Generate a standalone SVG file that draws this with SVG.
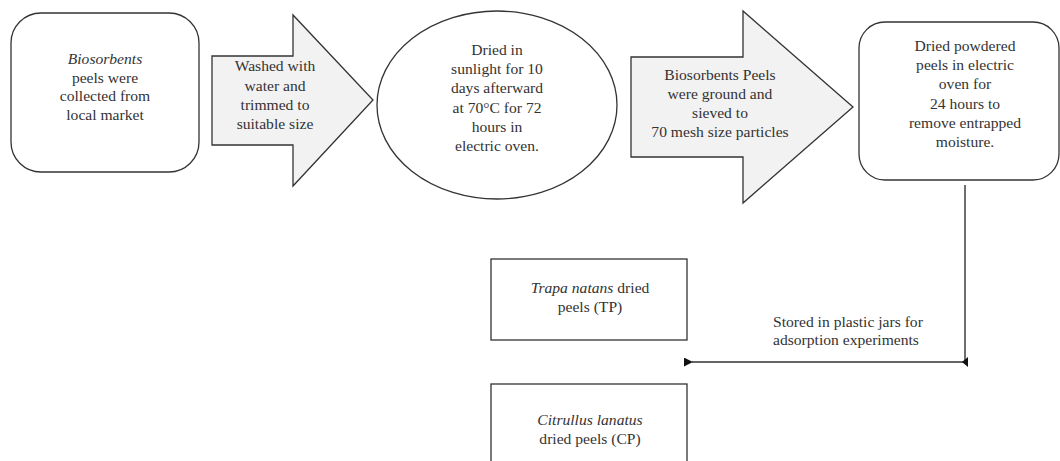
<svg xmlns="http://www.w3.org/2000/svg" width="1060" height="461" viewBox="0 0 1060 461">
<defs>
<style>
.shape{stroke:#333;stroke-width:1.3;fill:#fff}
.arrowshape{stroke:#333;stroke-width:1.3;fill:#f2f2f2}
text{font-family:"Liberation Serif","Times New Roman",serif;font-size:15.6px;fill:#333;text-anchor:middle}
.it{font-style:italic}
.lbl{text-anchor:start}
.conn{stroke:#333;stroke-width:1.4;fill:none}
</style>
<marker id="ah" viewBox="0 0 10 10" refX="1" refY="5" markerWidth="9" markerHeight="9" markerUnits="userSpaceOnUse" orient="auto">
<path d="M10 0 L0 5 L10 10 Z" fill="#111"/>
</marker>
</defs>
<rect width="1060" height="461" fill="#fff"/>
<g id="node-collect">
<rect class="shape" x="11" y="13" width="188" height="159" rx="30" ry="30"/>
<text x="105" y="64"><tspan class="it">Biosorbents</tspan></text>
<text x="105" y="82.5">peels were</text>
<text x="105" y="101">collected from</text>
<text x="105" y="119.5">local market</text>
</g>
<g id="node-wash">
<polygon class="arrowshape" points="212,56 293,56 293,15 373,100 293,186 293,145 212,145"/>
<text x="275" y="71">Washed with</text>
<text x="275" y="90.5">water and</text>
<text x="275" y="110">trimmed to</text>
<text x="275" y="129">suitable size</text>
</g>
<g id="node-dry">
<ellipse class="shape" cx="497" cy="105" rx="120" ry="94"/>
<text x="497" y="55">Dried in</text>
<text x="497" y="74.2">sunlight for 10</text>
<text x="497" y="93.4">days afterward</text>
<text x="497" y="112.6">at 70°C for 72</text>
<text x="497" y="131.8">hours in</text>
<text x="497" y="151">electric oven.</text>
</g>
<g id="node-grind">
<polygon class="arrowshape" points="631,57 743,57 743,11 853,107 743,203 743,157 631,157"/>
<text x="720" y="80">Biosorbents Peels</text>
<text x="720" y="99">were ground and</text>
<text x="720" y="118">sieved to</text>
<text x="720" y="137">70 mesh size particles</text>
</g>
<g id="node-oven">
<rect class="shape" x="859" y="22" width="200" height="158" rx="26" ry="26"/>
<text x="965" y="51">Dried powdered</text>
<text x="965" y="70.2">peels in electric</text>
<text x="965" y="89.4">oven for</text>
<text x="965" y="108.6">24 hours to</text>
<text x="965" y="127.8">remove entrapped</text>
<text x="965" y="147">moisture.</text>
</g>
<g id="node-tp">
<rect class="shape" x="491" y="259" width="196" height="81"/>
<text x="590" y="293"><tspan class="it">Trapa natans</tspan> dried</text>
<text x="590" y="312">peels (TP)</text>
</g>
<g id="node-cp">
<rect class="shape" x="491" y="384" width="196" height="90"/>
<text x="590" y="425"><tspan class="it">Citrullus lanatus</tspan></text>
<text x="590" y="444">dried peels (CP)</text>
</g>
<g id="connectors">
<path class="conn" d="M965 185 V362 H692" marker-end="url(#ah)"/>
<polygon points="962,362 968,357 968,367" fill="#111"/>
<text class="lbl" x="773" y="327">Stored in plastic jars for</text>
<text class="lbl" x="773" y="345">adsorption experiments</text>
</g>
</svg>
